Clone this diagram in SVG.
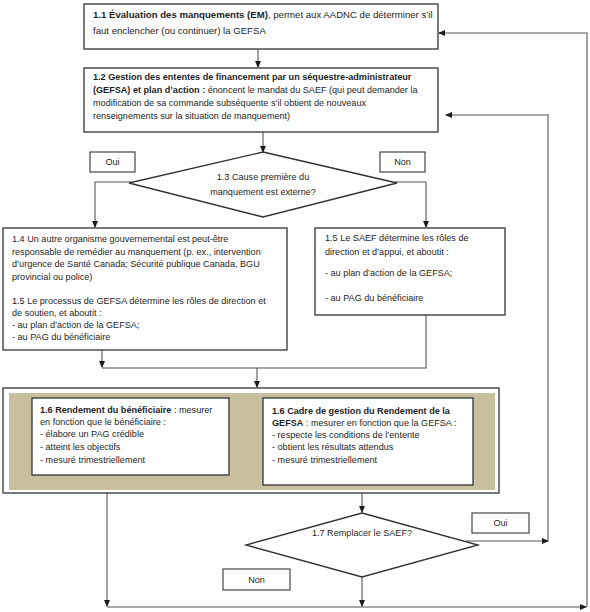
<svg xmlns="http://www.w3.org/2000/svg" width="590" height="612" viewBox="0 0 590 612">
<defs>
<marker id="ah" markerWidth="7" markerHeight="6" refX="6" refY="3" orient="auto" markerUnits="userSpaceOnUse">
<path d="M0,0 L7,3 L0,6 Z" fill="#1a1a1a"/>
</marker>
<style>
.box{fill:#fff;stroke:#333;stroke-width:1.3}
.lbl{fill:#fff;stroke:#333;stroke-width:1.1}
.ln{fill:none;stroke:#555;stroke-width:1.1}
text{font-family:"Liberation Sans",Arial,sans-serif;font-size:9.1px;fill:#1e1e1e}
.b{font-weight:bold}
.c{text-anchor:middle}
.big{font-size:9.6px}
</style>
</defs>
<rect width="590" height="612" fill="#fff"/>

<g id="connectors">
<path class="ln" d="M258,49 V67" marker-end="url(#ah)"/>
<path class="ln" d="M263,132 V152" marker-end="url(#ah)"/>
<path class="ln" d="M131,182 H95 V227" marker-end="url(#ah)"/>
<path class="ln" d="M395,182 H426 V227" marker-end="url(#ah)"/>
<path class="ln" d="M102,350 V367" marker-end="url(#ah)"/>
<path class="ln" d="M426,315 V368 H102"/>
<path class="ln" d="M257,368 V387" marker-end="url(#ah)"/>
<path class="ln" d="M107,493 V606" marker-end="url(#ah)"/>
<path class="ln" d="M107,607 H586" marker-end="url(#ah)"/>
<path class="ln" d="M362,493 V512" marker-end="url(#ah)"/>
<path class="ln" d="M362,577 V606" marker-end="url(#ah)"/>
<path class="ln" d="M466,541 H548" marker-end="url(#ah)"/>
<path class="ln" d="M548,541 V115 H446" marker-end="url(#ah)"/>
<path class="ln" d="M587,607 V33 H439" marker-end="url(#ah)"/>
</g>

<g id="n11">
<rect class="box" x="84" y="4" width="354" height="45"/>
<text x="93" y="18" class="big"><tspan class="b">1.1 Évaluation des manquements (EM)</tspan>, permet aux AADNC de déterminer s’il</text>
<text x="93" y="34" class="big">faut enclencher (ou continuer) la GEFSA</text>
</g>

<g id="n12">
<rect class="box" x="84" y="68" width="354" height="64"/>
<text x="93" y="80" class="b">1.2 Gestion des ententes de financement par un séquestre-administrateur</text>
<text x="93" y="93"><tspan class="b">(GEFSA) et plan d’action :</tspan> énoncent le mandat du SAEF (qui peut demander la</text>
<text x="93" y="106">modification de sa commande subséquente s’il obtient de nouveaux</text>
<text x="93" y="119">renseignements sur la situation de manquement)</text>
</g>

<g id="n13">
<polygon class="box" points="263,152 397,183 263,217 129,183"/>
<text x="263" y="180" class="c">1.3 Cause première du</text>
<text x="263" y="195" class="c">manquement est externe?</text>
</g>

<g id="oui1">
<rect class="lbl" x="90" y="152" width="45" height="20"/>
<text x="112.5" y="165" class="c">Oui</text>
</g>
<g id="non1">
<rect class="lbl" x="380" y="152" width="45" height="20"/>
<text x="402.5" y="165" class="c">Non</text>
</g>

<g id="n14">
<rect class="box" x="3" y="228" width="284" height="122"/>
<text x="12" y="242">1.4 Un autre organisme gouvernemental est peut-être</text>
<text x="12" y="255">responsable de remédier au manquement (p. ex., intervention</text>
<text x="12" y="267">d’urgence de Santé Canada; Sécurité publique Canada, BGU</text>
<text x="12" y="280">provincial ou police)</text>
<text x="12" y="304">1.5 Le processus de GEFSA détermine les rôles de direction et</text>
<text x="12" y="316">de soutien, et aboutit :</text>
<text x="12" y="328"> - au plan d’action de la GEFSA;</text>
<text x="12" y="340"> - au PAG du bénéficiaire</text>
</g>

<g id="n15">
<rect class="box" x="315" y="228" width="190" height="87"/>
<text x="325" y="241">1.5 Le SAEF détermine les rôles de</text>
<text x="325" y="255">direction et d’appui, et aboutit :</text>
<text x="325" y="276">- au plan d’action de la GEFSA;</text>
<text x="325" y="301">- au PAG du bénéficiaire</text>
</g>

<g id="n16frame">
<rect class="box" x="3" y="388" width="496" height="105"/>
<rect x="9" y="393" width="486" height="97" fill="#c7bf9d"/>
</g>

<g id="n16a">
<rect class="box" x="32" y="398" width="197" height="77"/>
<text x="40" y="413"><tspan class="b">1.6 Rendement du bénéficiaire</tspan> : mesurer</text>
<text x="40" y="425">en fonction que le bénéficiaire :</text>
<text x="40" y="437">- élabore un PAG crédible</text>
<text x="40" y="450">- atteint les objectifs</text>
<text x="40" y="463">- mesuré trimestriellement</text>
</g>

<g id="n16b">
<rect class="box" x="263" y="398" width="210" height="87"/>
<text x="272" y="414" class="b">1.6 Cadre de gestion du Rendement de la</text>
<text x="272" y="426"><tspan class="b">GEFSA</tspan> : mesurer en fonction que la GEFSA :</text>
<text x="272" y="438">- respecte les conditions de l’entente</text>
<text x="272" y="450">- obtient les résultats attendus</text>
<text x="272" y="463">- mesuré trimestriellement</text>
</g>

<g id="n17">
<polygon class="box" points="362,513 478,545 362,577 246,545"/>
<text x="362" y="536" class="c">1.7 Remplacer le SAEF?</text>
</g>

<g id="oui2">
<rect class="lbl" x="472" y="513" width="57" height="20"/>
<text x="500.5" y="526" class="c">Oui</text>
</g>
<g id="non2">
<rect class="lbl" x="223" y="569" width="67" height="21"/>
<text x="256.5" y="583" class="c">Non</text>
</g>
</svg>
